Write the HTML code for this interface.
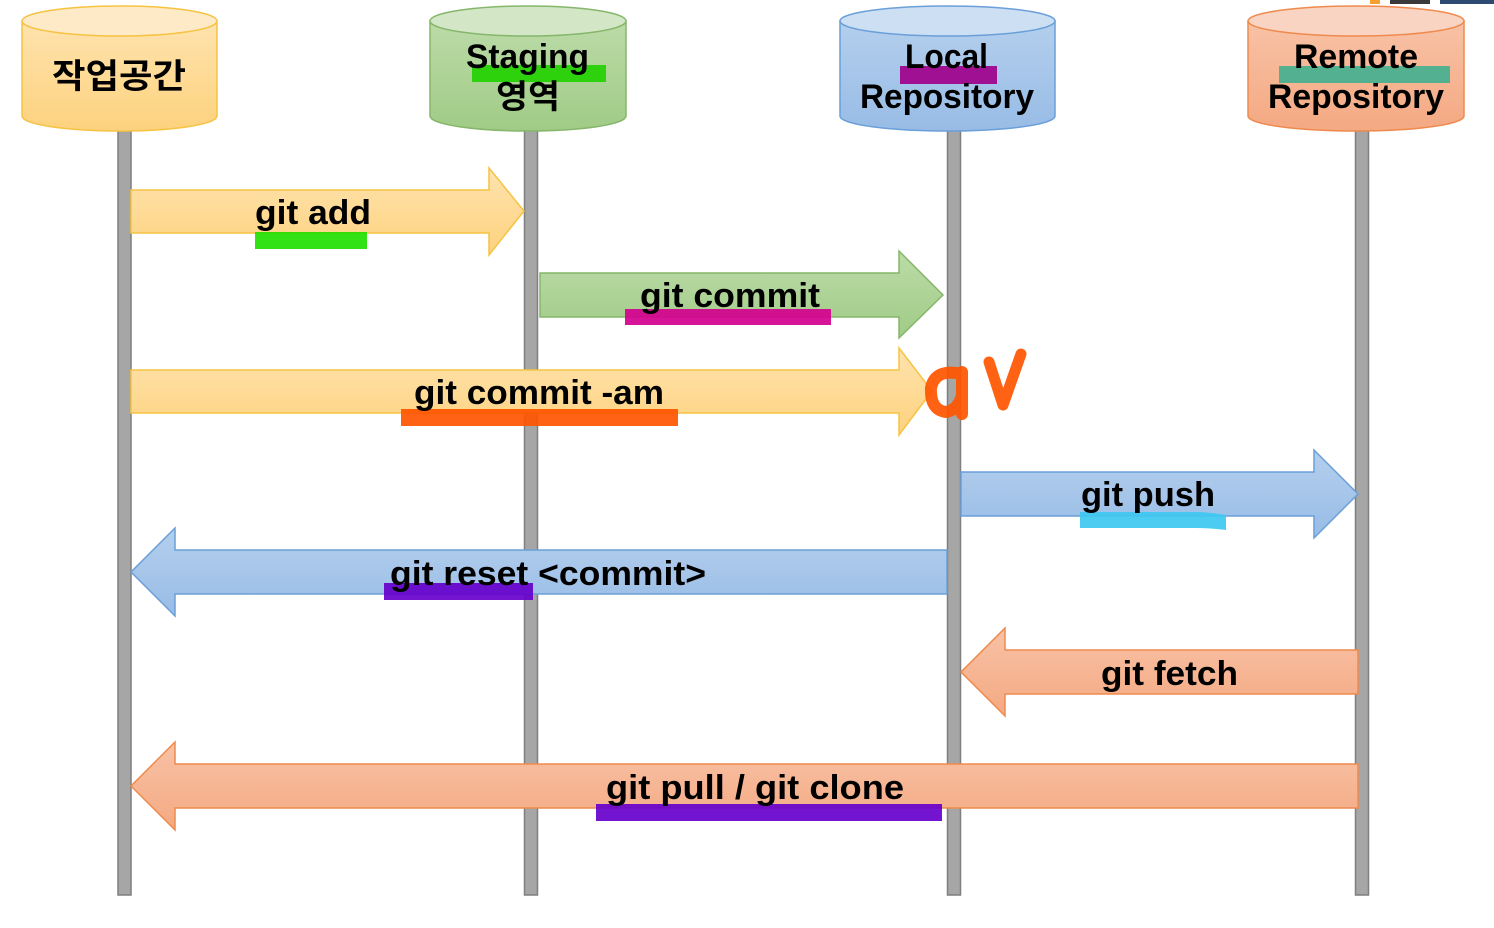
<!DOCTYPE html>
<html><head><meta charset="utf-8"><style>
html,body{margin:0;padding:0;background:#fff;}
svg{display:block;}
text{font-family:"Liberation Sans","Noto Sans CJK KR",sans-serif;font-weight:bold;fill:#000;}
</style></head><body>
<svg width="1494" height="928" viewBox="0 0 1494 928" xmlns="http://www.w3.org/2000/svg">
<defs>
<linearGradient id="gy" x1="0" y1="0" x2="0" y2="1"><stop offset="0" stop-color="#fee3ae"/><stop offset="1" stop-color="#fdd27e"/></linearGradient>
<linearGradient id="gg" x1="0" y1="0" x2="0" y2="1"><stop offset="0" stop-color="#bcdba8"/><stop offset="1" stop-color="#a0cb86"/></linearGradient>
<linearGradient id="gb" x1="0" y1="0" x2="0" y2="1"><stop offset="0" stop-color="#b4cfed"/><stop offset="1" stop-color="#98bce6"/></linearGradient>
<linearGradient id="gs" x1="0" y1="0" x2="0" y2="1"><stop offset="0" stop-color="#f8c2a6"/><stop offset="1" stop-color="#f4a982"/></linearGradient>
</defs>
<rect x="1370" y="0" width="10" height="4" fill="#f5a030"/>
<rect x="1390" y="0" width="40" height="4" fill="#3a3a3a"/>
<rect x="1440" y="0" width="54" height="4" fill="#2e4a70"/>
<g fill="#a6a6a6" stroke="#7f7f7f" stroke-width="1.5">
<rect x="118" y="128" width="13" height="767"/>
<rect x="524.5" y="128" width="13" height="767"/>
<rect x="947.5" y="128" width="13" height="767"/>
<rect x="1355.5" y="128" width="13" height="767"/>
</g>
<g stroke-width="1.5">
<path d="M22,21 L22,116 A97.5,15 0 0 0 217,116 L217,21 Z" fill="url(#gy)" stroke="#f6c343"/>
<ellipse cx="119.5" cy="21" rx="97.5" ry="15" fill="#feeac6" stroke="#f6c343"/>
<path d="M430,21 L430,116 A98,15 0 0 0 626,116 L626,21 Z" fill="url(#gg)" stroke="#85b66a"/>
<ellipse cx="528" cy="21" rx="98" ry="15" fill="#d3e7c7" stroke="#85b66a"/>
<path d="M840,21 L840,116 A107.5,15 0 0 0 1055,116 L1055,21 Z" fill="url(#gb)" stroke="#6a9fd8"/>
<ellipse cx="947.5" cy="21" rx="107.5" ry="15" fill="#cddff3" stroke="#6a9fd8"/>
<path d="M1248,21 L1248,116 A108,15 0 0 0 1464,116 L1464,21 Z" fill="url(#gs)" stroke="#ef8a4e"/>
<ellipse cx="1356" cy="21" rx="108" ry="15" fill="#fad4c2" stroke="#ef8a4e"/>
</g>
<g stroke-width="1.5">
<path d="M131,190 L489,190 L489,168 L524,211 L489,255 L489,233 L131,233 Z" fill="url(#gy)" stroke="#f6c343"/>
<path d="M540,273 L899,273 L899,251 L943,295 L899,338 L899,317 L540,317 Z" fill="url(#gg)" stroke="#85b66a"/>
<path d="M131,370 L899,370 L899,348 L932,391 L899,435 L899,413 L131,413 Z" fill="url(#gy)" stroke="#f6c343"/>
<path d="M961,472 L1314,472 L1314,450 L1358,494 L1314,538 L1314,516 L961,516 Z" fill="url(#gb)" stroke="#6a9fd8"/>
<path d="M947,550 L175,550 L175,528 L131,572 L175,616 L175,594 L947,594 Z" fill="url(#gb)" stroke="#6a9fd8"/>
<path d="M1358,650 L1005,650 L1005,628 L961,672 L1005,716 L1005,694 L1358,694 Z" fill="url(#gs)" stroke="#ef8a4e"/>
<path d="M1358,764 L175,764 L175,742 L131,786 L175,830 L175,808 L1358,808 Z" fill="url(#gs)" stroke="#ef8a4e"/>
</g>
<!-- highlights (under text) -->
<g opacity="0.92">
<rect x="472" y="65" width="134" height="17" fill="#22d000"/>
<rect x="900" y="66" width="97" height="18" fill="#a0008a"/>
<rect x="1279" y="66" width="171" height="17" fill="#44b08f"/>
<rect x="255" y="232" width="112" height="17" fill="#22e000"/>
<rect x="625" y="309" width="206" height="16" fill="#d4008f"/>
<rect x="401" y="409" width="277" height="17" fill="#ff5500"/>
<path d="M1080,512 L1200,512 Q1215,513 1226,515 L1226,530 Q1210,528 1195,528 L1080,528 Z" fill="#3ec8f0"/>
<rect x="384" y="583" width="149" height="17" fill="#6600cc"/>
<rect x="596" y="804" width="346" height="17" fill="#6600cc"/>
</g>
<text x="52" y="88" font-size="34" textLength="134" lengthAdjust="spacingAndGlyphs">작업공간</text>
<text x="466" y="68" font-size="34" textLength="123" lengthAdjust="spacingAndGlyphs">Staging</text>
<text x="496" y="108" font-size="33" textLength="64" lengthAdjust="spacingAndGlyphs">영역</text>
<text x="905" y="68" font-size="34" textLength="83" lengthAdjust="spacingAndGlyphs">Local</text>
<text x="860" y="108" font-size="34" textLength="174" lengthAdjust="spacingAndGlyphs">Repository</text>
<text x="1294" y="68" font-size="34" textLength="124" lengthAdjust="spacingAndGlyphs">Remote</text>
<text x="1268" y="108" font-size="34" textLength="176" lengthAdjust="spacingAndGlyphs">Repository</text>
<text x="255" y="224" font-size="34" textLength="116" lengthAdjust="spacingAndGlyphs">git add</text>
<text x="640" y="307" font-size="34" textLength="180" lengthAdjust="spacingAndGlyphs">git commit</text>
<text x="414" y="404" font-size="34" textLength="250" lengthAdjust="spacingAndGlyphs">git commit -am</text>
<text x="1081" y="506" font-size="34" textLength="134" lengthAdjust="spacingAndGlyphs">git push</text>
<text x="390" y="585" font-size="34" textLength="316" lengthAdjust="spacingAndGlyphs">git reset &lt;commit&gt;</text>
<text x="1101" y="685" font-size="34" textLength="137" lengthAdjust="spacingAndGlyphs">git fetch</text>
<text x="606" y="799" font-size="34" textLength="298" lengthAdjust="spacingAndGlyphs">git pull / git clone</text>
<g fill="none" stroke="#ff5500" stroke-linecap="round" stroke-linejoin="round" opacity="0.92">
<path d="M962,374 Q935,368 931,388 Q930,410 946,412 Q958,410 962,395 M962,372 L962,414" stroke-width="12"/>
<path d="M989,362 L1003,405 L1021,354" stroke-width="11"/>
</g>
</svg>
</body></html>
